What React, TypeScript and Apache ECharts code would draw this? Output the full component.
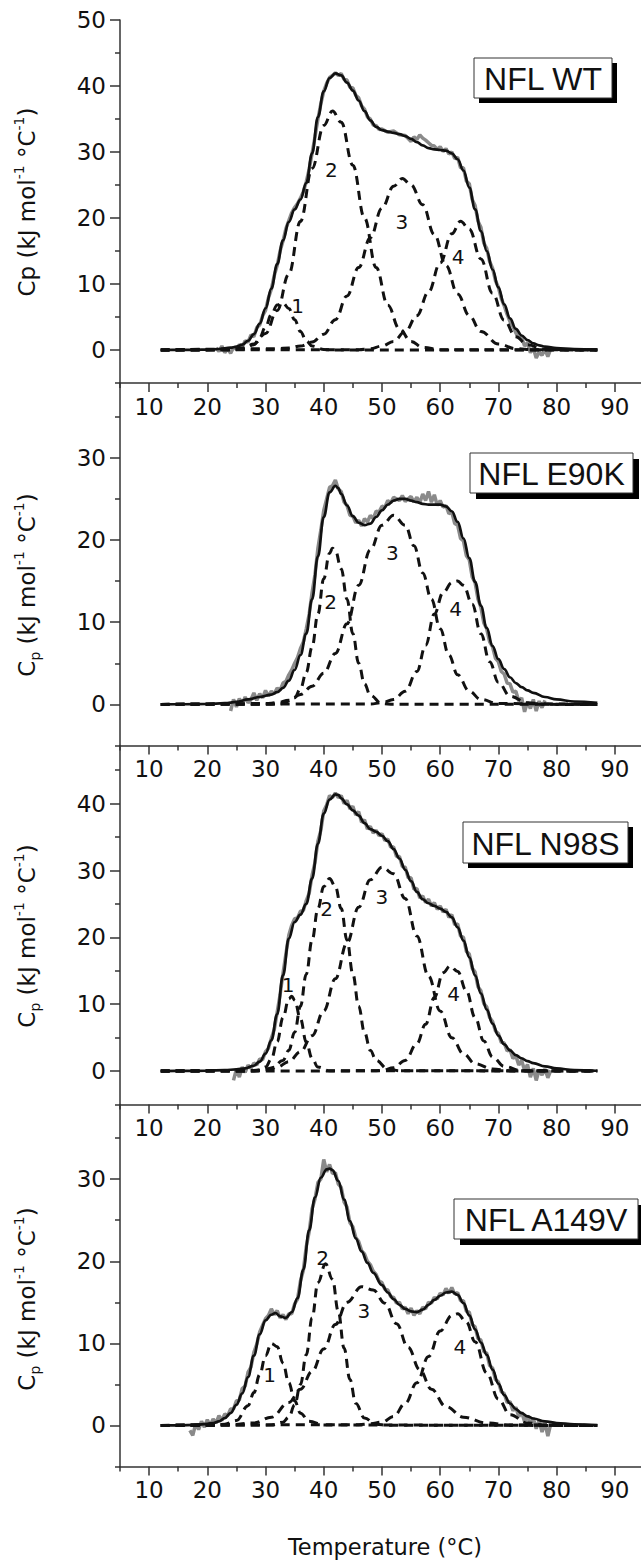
import React, { useEffect, useRef } from "react";
import * as echarts from "echarts";

const FONT = "'DejaVu Sans', Verdana, sans-serif";
const BOX_FONT = "'Liberation Sans', Arial, Helvetica, sans-serif";
const INK = "#111111";
const AXIS_COLOR = "#333333";

// ---------- tick values ----------
const xMajorTicks = [10, 20, 30, 40, 50, 60, 70, 80, 90];
const xMinorTicks = [5, 15, 25, 35, 45, 55, 65, 75, 85];
const yMajorTicks1 = [0, 10, 20, 30, 40, 50];
const yMinorTicks1 = [-5, 5, 15, 25, 35, 45];
const yMajorTicks2 = [0, 10, 20, 30];
const yMinorTicks2 = [-5, 5, 15, 25, 35];
const yMajorTicks3 = [0, 10, 20, 30, 40];
const yMinorTicks3 = [-5, 5, 15, 25, 35, 45];
const yMajorTicks4 = [0, 10, 20, 30];
const yMinorTicks4 = [-5, 5, 15, 25, 35];

// ---------- Panel 1: NFL WT ----------
const wtExp = [[21.5,0.3],[22,-0.2],[22.5,0.6],[23,-0.4],[23.5,0.2],[24,-0.5],[24.5,0.4],[25,0.1],[25.5,0.8],[26,0.5],[26.5,1.4],[27,1.2],[27.5,2.3],[28,2.0],[28.5,3.4],[29,3.8],[29.5,5.2],[30,6.0],[30.5,7.9],[31,9.2],[31.5,11.3],[32,12.8],[32.5,15.0],[33,16.5],[33.5,18.4],[34,19.6],[34.5,20.8],[35,21.6],[35.5,22.2],[36,23.0],[36.5,24.0],[37,25.5],[37.5,27.4],[38,29.8],[38.5,32.3],[39,35.0],[39.5,37.3],[40,39.2],[40.5,40.4],[41,41.3],[41.5,41.6],[42,42.0],[42.5,41.6],[43,41.9],[43.5,41.0],[44,40.9],[44.5,39.8],[45,39.7],[45.5,38.6],[46,38.2],[46.5,37.0],[47,36.5],[47.5,35.3],[48,35.0],[48.5,34.1],[49,34.0],[49.5,33.4],[50,33.5],[51,33.0],[52,33.2],[53,32.6],[54,32.5],[55,31.6],[55.5,32.3],[56,31.9],[56.5,32.6],[57,32.1],[57.5,31.8],[58,31.4],[58.5,31.0],[59,30.9],[59.5,30.4],[60,30.8],[60.5,30.1],[61,30.5],[61.5,29.7],[62,30.0],[62.5,29.0],[63,29.2],[63.5,27.6],[64,27.6],[64.5,25.6],[65,25.2],[65.5,22.8],[66,21.9],[66.5,19.5],[67,18.6],[67.5,16.2],[68,15.4],[68.5,13.4],[69,12.4],[69.5,10.5],[70,9.5],[70.5,7.8],[71,6.7],[71.5,5.4],[72,4.3],[72.5,3.6],[73,2.6],[73.5,1.8],[74,1.9],[74.5,0.6],[75,1.1],[75.5,-0.4],[76,0.3],[76.5,-1.2],[77,-0.3],[77.5,-0.8],[78,0.1],[78.5,-1.0],[79,0.2]];
const wtFit = [[12,0],[15,0.01],[18,0.03],[20,0.06],[22,0.15],[24,0.35],[25,0.5],[26,0.8],[27,1.4],[28,2.4],[29,4.0],[30,6.3],[31,9.3],[32,13.0],[33,16.6],[34,19.4],[35,21.3],[36,22.8],[37,25.3],[38,29.8],[39,35.3],[40,39.2],[41,41.2],[42,41.9],[43,41.6],[44,40.5],[45,39.3],[46,37.8],[47,36.2],[48,34.8],[49,33.8],[50,33.3],[51,33.1],[52,32.9],[53,32.7],[54,32.4],[55,32.0],[56,31.5],[57,31.0],[58,30.6],[59,30.4],[60,30.3],[61,30.2],[62,29.8],[63,28.9],[64,27.2],[65,24.6],[66,21.3],[67,18.0],[68,15.0],[69,12.2],[70,9.5],[71,6.9],[72,4.8],[73,3.2],[74,2.2],[75,1.5],[76,1.0],[77,0.7],[78,0.5],[80,0.3],[83,0.15],[87,0.05]];
const wtPeak1 = [[12,0],[24,0.02],[26,0.1],[28,0.8],[29,1.9],[30,3.5],[31,5.4],[32,6.8],[33,7.1],[34,6.3],[35,4.6],[36,2.8],[37,1.4],[38,0.6],[40,0.08],[42,0.01],[87,0]];
const wtPeak2 = [[12,0],[24,0.05],[26,0.3],[28,0.9],[30,2.5],[32,6.0],[34,11.5],[36,19.5],[38,27.5],[40,34.0],[41.5,36.2],[43,34.5],[45,28.0],[47,20.0],[49,12.5],[51,6.8],[53,3.2],[55,1.3],[57,0.4],[60,0.05],[87,0]];
const wtPeak3 = [[12,0],[32,0.2],[34,0.3],[36,0.6],[38,1.2],[40,2.4],[42,4.6],[44,8.2],[46,12.5],[48,17.0],[50,21.5],[52,24.8],[53.5,26.0],[55,25.0],[57,22.0],[59,17.5],[61,12.8],[63,8.5],[65,5.2],[67,2.8],[70,0.9],[73,0.2],[76,0.03],[87,0]];
const wtPeak4 = [[12,0],[46,0.05],[48,0.2],[50,0.6],[52,1.3],[54,2.8],[56,5.2],[58,8.8],[60,13.2],[62,17.6],[63.5,19.5],[65,18.3],[67,13.8],[69,8.6],[71,4.5],[73,2.0],[75,0.8],[78,0.1],[87,0]];
const wtLabels = [[35.5,6.6,"1"],[41.3,27.3,"2"],[53.4,19.4,"3"],[63.1,14.1,"4"]];

// ---------- Panel 2: NFL E90K ----------
const e90kExp = [[24,-0.8],[24.5,0.6],[25,-0.3],[25.5,0.7],[26,0.0],[26.5,0.9],[27,0.2],[27.5,0.6],[28,1.4],[28.5,0.5],[29,1.3],[29.5,0.8],[30,1.7],[30.5,1.0],[31,1.6],[31.5,1.3],[32,2.0],[32.5,1.7],[33,2.6],[33.5,2.8],[34,3.6],[34.5,4.2],[35,5.0],[35.5,5.7],[36,6.8],[36.5,7.6],[37,9.2],[37.5,11.0],[38,13.6],[38.5,15.8],[39,19.0],[39.5,21.2],[40,23.6],[40.5,25.0],[41,26.4],[41.5,26.6],[42,27.3],[42.5,26.2],[43,25.9],[43.5,24.6],[44,24.2],[44.5,23.0],[45,22.9],[45.5,22.1],[46,22.4],[46.5,21.7],[47,22.6],[47.5,22.2],[48,23.0],[48.5,22.6],[49,23.5],[49.5,23.4],[50,24.1],[50.5,24.0],[51,24.8],[51.5,24.5],[52,25.2],[53,24.8],[53.5,25.4],[54,24.7],[55,25.3],[55.5,24.6],[56,25.2],[56.5,24.5],[57,25.6],[57.5,24.8],[58,25.9],[58.5,24.6],[59,25.5],[59.5,24.2],[60,24.8],[60.5,24.0],[61,24.2],[61.5,23.2],[62,23.4],[62.5,22.0],[63,21.8],[63.5,20.2],[64,19.9],[64.5,18.1],[65,17.6],[65.5,15.5],[66,14.8],[66.5,12.8],[67,11.8],[67.5,9.9],[68,9.2],[68.5,7.6],[69,7.0],[69.5,5.6],[70,5.2],[70.5,4.0],[71,3.7],[71.5,2.6],[72,2.5],[72.5,1.5],[73,1.6],[73.5,0.4],[74,0.8],[74.5,-0.9],[75,0.3],[75.5,-0.5],[76,0.6],[76.5,-0.8],[77,0.4],[77.5,-0.4],[78,0.5]];
const e90kFit = [[12,0],[16,0.02],[20,0.05],[23,0.15],[25,0.3],[27,0.6],[29,0.9],[31,1.2],[32,1.5],[33,2.0],[34,2.9],[35,4.2],[36,6.0],[37,8.6],[38,12.8],[39,18.0],[40,22.8],[41,25.8],[42,26.6],[42.5,26.3],[43,25.6],[44,24.2],[45,22.9],[46,22.1],[47,21.8],[48,22.0],[49,22.8],[50,23.6],[51,24.3],[52,24.8],[53,25.0],[54,25.0],[55,24.8],[56,24.6],[57,24.4],[58,24.3],[59,24.3],[60,24.3],[61,24.1],[62,23.5],[63,22.2],[64,20.2],[65,17.8],[66,14.9],[67,12.0],[68,9.3],[69,7.1],[70,5.5],[71,4.3],[72,3.3],[73,2.6],[74,2.1],[75,1.7],[76,1.4],[78,0.9],[80,0.6],[83,0.35],[87,0.2]];
const e90kPeak2 = [[12,0],[31,0.02],[33,0.1],[35,0.8],[36,1.9],[37,3.9],[38,7.0],[39,11.0],[40,15.3],[41,18.4],[41.5,19.0],[42,18.7],[43,16.5],[44,12.8],[45,8.6],[46,5.0],[47,2.5],[48,1.1],[50,0.1],[52,0.01],[87,0]];
const e90kPeak3 = [[12,0],[30,0.1],[32,0.2],[34,0.5],[36,1.2],[38,2.2],[40,3.8],[42,6.2],[44,9.8],[46,14.5],[48,18.8],[50,21.8],[52,23.0],[54,21.8],[55.5,19.3],[57,16.0],[58.5,12.8],[60,9.2],[61.5,6.0],[63,3.6],[65,1.6],[67,0.6],[70,0.1],[87,0]];
const e90kPeak4 = [[12,0],[48,0.05],[50,0.2],[52,0.6],[54,1.6],[56,4.0],[57.5,7.2],[59,11.0],[60.5,13.6],[62,14.8],[63,15.0],[64,14.5],[65.5,12.2],[67,8.6],[68.5,5.2],[70,2.7],[72,1.0],[75,0.2],[78,0.02],[87,0]];
const e90kLabels = [[41.2,12.5,"2"],[51.8,18.4,"3"],[62.65,11.6,"4"]];

// ---------- Panel 3: NFL N98S ----------
const n98sExp = [[24.5,-1.4],[25,0.3],[25.5,-0.9],[26,0.6],[26.5,-0.2],[27,0.9],[27.5,0.4],[28,1.2],[28.5,0.9],[29,1.8],[29.5,1.7],[30,2.9],[30.5,3.4],[31,4.9],[31.5,6.2],[32,8.8],[32.5,11.4],[33,14.6],[33.5,17.5],[34,20.3],[34.5,21.8],[35,22.8],[35.5,22.9],[36,23.9],[36.5,24.0],[37,25.5],[37.5,26.6],[38,29.3],[38.5,31.2],[39,34.4],[39.5,36.0],[40,38.9],[40.5,39.8],[41,41.2],[41.5,40.9],[42,41.6],[42.5,40.9],[43,41.2],[43.5,40.0],[44,40.5],[44.5,39.2],[45,39.6],[45.5,38.3],[46,38.8],[46.5,37.2],[47,37.6],[47.5,36.2],[48,36.6],[48.5,35.6],[49,36.0],[49.5,35.2],[50,35.5],[50.5,34.5],[51,34.7],[51.5,33.5],[52,33.5],[52.5,32.1],[53,32.1],[53.5,30.6],[54,30.5],[54.5,28.9],[55,28.9],[55.5,27.2],[56,27.3],[56.5,25.9],[57,26.2],[57.5,25.2],[58,25.7],[58.5,24.7],[59,25.2],[59.5,24.2],[60,24.7],[60.5,23.8],[61,24.2],[61.5,23.0],[62,23.4],[62.5,21.9],[63,22.0],[63.5,20.2],[64,20.0],[64.5,17.9],[65,17.5],[65.5,15.4],[66,14.8],[66.5,12.6],[67,12.0],[67.5,10.1],[68,9.6],[68.5,8.0],[69,7.4],[69.5,6.0],[70,5.6],[70.5,4.3],[71,4.2],[71.5,3.0],[72,3.2],[72.5,1.9],[73,2.3],[73.5,0.9],[74,1.6],[74.5,0.1],[75,1.0],[75.5,-0.9],[76,0.4],[76.5,-1.4],[77,0.2],[77.5,-0.6],[78,0.3],[78.5,-1.0],[79,0.1]];
const n98sFit = [[12,0],[16,0.02],[20,0.05],[23,0.15],[25,0.25],[26.5,0.4],[28,0.8],[29,1.4],[30,2.6],[31,4.6],[32,8.5],[33,14.3],[34,19.8],[35,22.3],[36,23.4],[37,25.0],[38,28.8],[39,34.0],[40,38.5],[41,40.6],[42,41.4],[42.5,41.3],[43,40.8],[44,39.9],[45,39.0],[46,38.2],[47,37.1],[48,36.2],[49,35.8],[50,35.2],[51,34.4],[52,33.2],[53,31.8],[54,30.1],[55,28.4],[56,26.8],[57,25.7],[58,25.1],[59,24.7],[60,24.3],[61,23.8],[62,23.0],[63,21.5],[64,19.5],[65,17.0],[66,14.3],[67,11.6],[68,9.2],[69,7.1],[70,5.3],[71,4.0],[72,3.1],[73,2.4],[74,1.9],[75,1.5],[76,1.2],[78,0.7],[80,0.4],[83,0.15],[87,0.05]];
const n98sPeak1 = [[12,0],[27,0.02],[29,0.1],[30,0.6],[31,1.8],[32,4.4],[33,8.0],[34,10.8],[34.5,11.2],[35,10.6],[36,7.8],[37,4.3],[38,1.9],[39,0.6],[41,0.05],[87,0]];
const n98sPeak2 = [[12,0],[28,0.02],[31,0.3],[33,1.6],[34,3.1],[35,5.8],[36,9.7],[37,14.5],[38,19.6],[39,24.3],[40,27.6],[41,28.8],[42,27.6],[43,24.3],[44,19.6],[45,14.5],[46,9.7],[47,5.8],[48,3.1],[49,1.6],[51,0.3],[53,0.05],[87,0]];
const n98sPeak3 = [[12,0],[28,0.1],[30,0.3],[32,0.6],[34,1.4],[36,2.9],[38,5.3],[40,9.0],[42,13.8],[44,19.2],[46,24.5],[48,28.6],[50,30.5],[52,29.5],[54,25.8],[56,20.2],[58,14.2],[60,9.0],[62,5.0],[64,2.6],[66,1.1],[69,0.3],[72,0.05],[87,0]];
const n98sPeak4 = [[12,0],[48,0.03],[50,0.1],[52,0.5],[54,1.6],[56,4.1],[57.5,7.0],[59,11.0],[60.5,14.7],[61.7,15.7],[63,14.9],[64.5,12.0],[66,8.0],[67.5,4.5],[69,2.1],[71,0.7],[74,0.05],[87,0]];
const n98sLabels = [[33.9,12.9,"1"],[40.5,24.3,"2"],[50.0,26.0,"3"],[62.3,11.6,"4"]];

// ---------- Panel 4: NFL A149V ----------
const a149vExp = [[17,-0.6],[17.5,-1.2],[18,0.2],[18.5,-0.5],[19,0.5],[19.5,-0.2],[20,0.7],[20.5,0.0],[21,0.8],[21.5,0.3],[22,1.2],[22.5,0.6],[23,1.4],[23.5,1.2],[24,2.0],[24.5,2.0],[25,3.0],[25.5,3.1],[26,4.5],[26.5,4.8],[27,6.5],[27.5,7.1],[28,8.9],[28.5,9.9],[29,11.4],[29.5,12.2],[30,13.0],[30.5,13.4],[31,14.2],[31.5,13.5],[32,14.0],[32.5,13.1],[33,13.5],[33.5,12.9],[34,13.6],[34.5,13.6],[35,14.8],[35.5,15.4],[36,17.6],[36.5,18.9],[37,21.8],[37.5,23.6],[38,26.4],[38.5,27.6],[39,29.6],[39.5,30.0],[40,32.4],[40.5,30.9],[41,31.8],[41.5,30.7],[42,30.8],[42.5,29.4],[43,29.0],[43.5,27.2],[44,26.6],[44.5,24.7],[45,24.2],[45.5,22.9],[46,22.4],[46.5,21.3],[47,20.9],[47.5,20.0],[48,19.6],[48.5,18.8],[49,18.4],[49.5,17.6],[50,17.4],[50.5,16.6],[51,16.5],[51.5,15.7],[52,15.6],[52.5,14.9],[53,15.0],[53.5,14.2],[54,14.4],[54.5,13.6],[55,14.3],[55.5,13.4],[56,14.0],[56.5,13.6],[57,14.4],[57.5,14.2],[58,15.0],[58.5,14.9],[59,15.6],[59.5,15.4],[60,16.1],[60.5,15.9],[61,16.7],[61.5,16.1],[62,16.8],[62.5,16.0],[63,16.2],[63.5,15.2],[64,15.2],[64.5,13.9],[65,13.8],[65.5,12.3],[66,12.0],[66.5,10.6],[67,10.4],[67.5,9.0],[68,8.8],[68.5,7.3],[69,7.0],[69.5,5.6],[70,5.3],[70.5,4.1],[71,3.9],[71.5,2.8],[72,2.9],[72.5,1.8],[73,2.2],[73.5,1.1],[74,1.6],[74.5,0.5],[75,1.2],[75.5,0.1],[76,0.9],[76.5,-0.4],[77,0.6],[77.5,-0.8],[78,0.3],[78.5,-1.3],[79,0.2]];
const a149vFit = [[12,0],[15,0.02],[18,0.08],[20,0.2],[21,0.3],[22,0.5],[23,0.9],[24,1.5],[25,2.5],[26,3.9],[27,5.9],[28,8.5],[29,11.1],[30,12.8],[31,13.5],[31.7,13.7],[32.5,13.3],[33.5,13.1],[34.5,13.8],[35.5,15.5],[36.5,19.0],[37.5,23.8],[38.5,27.8],[39.5,30.2],[40.5,31.2],[41,31.3],[41.5,31.1],[42.5,29.8],[43.5,27.5],[44.5,24.9],[45.5,22.8],[46.5,21.2],[47.5,19.8],[48.5,18.6],[50,17.1],[51,16.2],[52,15.4],[53,14.7],[54,14.2],[55,13.9],[56,13.8],[57,14.1],[58,14.7],[59,15.3],[60,15.8],[61,16.2],[62,16.3],[63,15.9],[64,14.9],[65,13.4],[66,11.7],[67,10.1],[68,8.6],[69,6.8],[70,5.1],[71,3.7],[72,2.7],[73,2.0],[74,1.5],[75,1.1],[76,0.85],[78,0.5],[80,0.3],[83,0.15],[87,0.05]];
const a149vPeak1 = [[12,0],[21,0.03],[23,0.15],[25,0.6],[27,2.4],[28,4.0],[29,6.2],[30,8.5],[31,10.0],[32,9.6],[33,7.6],[34,5.2],[35,3.0],[36,1.5],[37.5,0.5],[40,0.05],[87,0]];
const a149vPeak2 = [[12,0],[31,0.05],[33,0.4],[34,1.0],[35,2.5],[36,5.0],[37,8.6],[38,13.1],[39,17.4],[40.3,19.7],[41.5,17.8],[42.5,13.9],[43.5,9.4],[44.5,5.6],[45.5,2.7],[47,0.9],[49,0.15],[51,0.02],[87,0]];
const a149vPeak3 = [[12,0],[24,0.1],[28,0.3],[31,1.0],[34,2.8],[36,4.4],[38,6.6],[40,9.3],[42,12.3],[44,15.0],[46.5,16.9],[48.5,16.5],[50.5,14.9],[52.5,12.4],[54.5,9.5],[56.5,6.8],[58.5,4.4],[61,2.3],[64,1.0],[68,0.3],[72,0.05],[87,0]];
const a149vPeak4 = [[12,0],[46,0.1],[48,0.2],[50,0.4],[52,1.1],[54,2.7],[56,5.2],[58,8.4],[60,11.5],[62,13.4],[63,13.6],[64.5,12.6],[66,10.2],[68,6.4],[70,3.2],[72,1.3],[75,0.3],[78,0.05],[87,0]];
const a149vLabels = [[30.7,6.1,"1"],[39.8,20.4,"2"],[46.9,14.0,"3"],[63.4,9.6,"4"]];

// ---------- layout ----------
const X_MIN = 5;
const X_MAX = 94.5;
const PLOT_LEFT = 120;
const PLOT_W = 521;

const CP_PLAIN = "{m|Cp (kJ mol}{u|-1}{m| °C}{u|-1}{m|)}";
const CP_SUB = "{m|C}{s|p}{m| (kJ mol}{u|-1}{m| °C}{u|-1}{m|)}";

const PANELS = [
  { name: "NFL WT", top: 20, bottom: 383, yMax: 50, exp: wtExp, fit: wtFit, peaks: [wtPeak1, wtPeak2, wtPeak3, wtPeak4], labels: wtLabels,
    yMaj: yMajorTicks1, yMin: yMinorTicks1, box: [474, 58, 138, 40], sh: 5, cp: CP_PLAIN, nameY: 202 },
  { name: "NFL E90K", top: 383, bottom: 745.5, yMax: 39.1, exp: e90kExp, fit: e90kFit, peaks: [e90kPeak2, e90kPeak3, e90kPeak4], labels: e90kLabels,
    yMaj: yMajorTicks2, yMin: yMinorTicks2, box: [470, 453, 163, 40], sh: 6, cp: CP_SUB, nameY: 585 },
  { name: "NFL N98S", top: 745.5, bottom: 1104.5, yMax: 48.7, exp: n98sExp, fit: n98sFit, peaks: [n98sPeak1, n98sPeak2, n98sPeak3, n98sPeak4], labels: n98sLabels,
    yMaj: yMajorTicks3, yMin: yMinorTicks3, box: [463, 822, 165, 41], sh: 5, cp: CP_SUB, nameY: 936 },
  { name: "NFL A149V", top: 1104.5, bottom: 1466.5, yMax: 39.1, exp: a149vExp, fit: a149vFit, peaks: [a149vPeak1, a149vPeak2, a149vPeak3, a149vPeak4], labels: a149vLabels,
    yMaj: yMajorTicks4, yMin: yMinorTicks4, box: [454, 1199, 184, 40], sh: 6, cp: CP_SUB, nameY: 1299 },
];

function buildOption() {
  const grid: any[] = [];
  const xAxis: any[] = [];
  const yAxis: any[] = [];
  const series: any[] = [];
  const graphic: any[] = [];
  const tickLine = { color: AXIS_COLOR, width: 1.5 };
  const labelStyle = { fontSize: 23, color: INK, fontFamily: FONT };

  PANELS.forEach((p, i) => {
    grid.push({ left: PLOT_LEFT, top: p.top, width: PLOT_W, height: p.bottom - p.top, containLabel: false, outerBoundsMode: "none" });
    const xb = { gridIndex: i, type: "value", min: X_MIN, max: X_MAX, interval: 5, position: "bottom", splitLine: { show: false } };
    xAxis.push({ ...xb,
      axisLine: { show: true, onZero: false, lineStyle: tickLine },
      axisTick: { show: true, length: 5, customValues: xMinorTicks, lineStyle: tickLine },
      axisLabel: { show: true, customValues: xMajorTicks, margin: 12, ...labelStyle, formatter: (v: number) => (v % 10 === 0 ? String(v) : "") } });
    xAxis.push({ ...xb,
      axisLine: { show: false, onZero: false },
      axisTick: { show: true, length: 9, customValues: xMajorTicks, lineStyle: tickLine },
      axisLabel: { show: false } });
    const yb = { gridIndex: i, type: "value", min: -5, max: p.yMax, interval: 5, position: "left", splitLine: { show: false } };
    yAxis.push({ ...yb,
      axisLine: { show: true, onZero: false, lineStyle: tickLine },
      axisTick: { show: true, length: 5, customValues: p.yMin, lineStyle: tickLine },
      axisLabel: { show: true, customValues: p.yMaj, margin: 14, ...labelStyle, formatter: (v: number) => (v % 10 === 0 ? String(v) : "") } });
    yAxis.push({ ...yb,
      axisLine: { show: false, onZero: false },
      axisTick: { show: true, length: 10, customValues: p.yMaj, lineStyle: tickLine },
      axisLabel: { show: false } });

    const ax = { xAxisIndex: 2 * i, yAxisIndex: 2 * i, showSymbol: false, symbol: "none", silent: true };
    series.push({ ...ax, type: "line", data: p.exp, lineStyle: { color: "#8a8a8a", width: 3.5 }, z: 2 });
    p.peaks.forEach((pk) => {
      series.push({ ...ax, type: "line", data: pk, smooth: 0.4, smoothMonotone: "x",
        lineStyle: { color: INK, width: 3, type: [9, 6] }, z: 3 });
    });
    series.push({ ...ax, type: "line", data: p.fit, smooth: 0.4, smoothMonotone: "x",
      lineStyle: { color: INK, width: 2.7 }, z: 4 });
    series.push({ xAxisIndex: 2 * i, yAxisIndex: 2 * i, type: "scatter", silent: true, symbolSize: 2,
      itemStyle: { color: "rgba(0,0,0,0)" },
      data: p.labels.map((l: any) => ({ name: l[2], value: [l[0], l[1]] })),
      label: { show: true, position: "inside", formatter: "{b}", fontSize: 20, color: INK, fontFamily: FONT, opacity: 1 }, z: 5 });

    const [bx, by, bw, bh] = p.box;
    graphic.push({ type: "rect", shape: { x: bx + p.sh, y: by + p.sh, width: bw, height: bh }, style: { fill: "#000" }, z: 10 });
    graphic.push({ type: "rect", shape: { x: bx, y: by, width: bw, height: bh }, style: { fill: "#fff", stroke: "#333", lineWidth: 1 }, z: 11 });
    graphic.push({ type: "text", x: bx + bw / 2, y: by + bh / 2 + 1, z: 12,
      style: { text: p.name, fontSize: 32, fontFamily: BOX_FONT, fill: INK, align: "center", verticalAlign: "middle" } });

    graphic.push({ type: "text", x: 27, y: p.nameY, rotation: Math.PI / 2, z: 12,
      style: { text: p.cp, align: "center", verticalAlign: "middle", fontFamily: FONT, fill: INK,
        rich: {
          m: { fontSize: 23, fontFamily: FONT, fill: INK, lineHeight: 30 },
          u: { fontSize: 14, fontFamily: FONT, fill: INK, lineHeight: 14, verticalAlign: "top" },
          s: { fontSize: 14, fontFamily: FONT, fill: INK, lineHeight: 14, verticalAlign: "bottom" },
        } } });
  });

  graphic.push({ type: "text", x: 385, y: 1547, z: 12,
    style: { text: "Temperature (°C)", fontSize: 22.5, fontFamily: FONT, fill: INK, align: "center", verticalAlign: "middle" } });

  return { animation: false, backgroundColor: "#ffffff", grid, xAxis, yAxis, series, graphic };
}

export default function App() {
  const ref = useRef<HTMLDivElement>(null);
  useEffect(() => {
    const chart = echarts.init(ref.current as HTMLDivElement, null, { renderer: "svg" });
    chart.setOption(buildOption() as any);
    return () => chart.dispose();
  }, []);
  return <div ref={ref} style={{ position: "absolute", left: 0, top: 0, width: 641, height: 1561, background: "#fff" }} />;
}
